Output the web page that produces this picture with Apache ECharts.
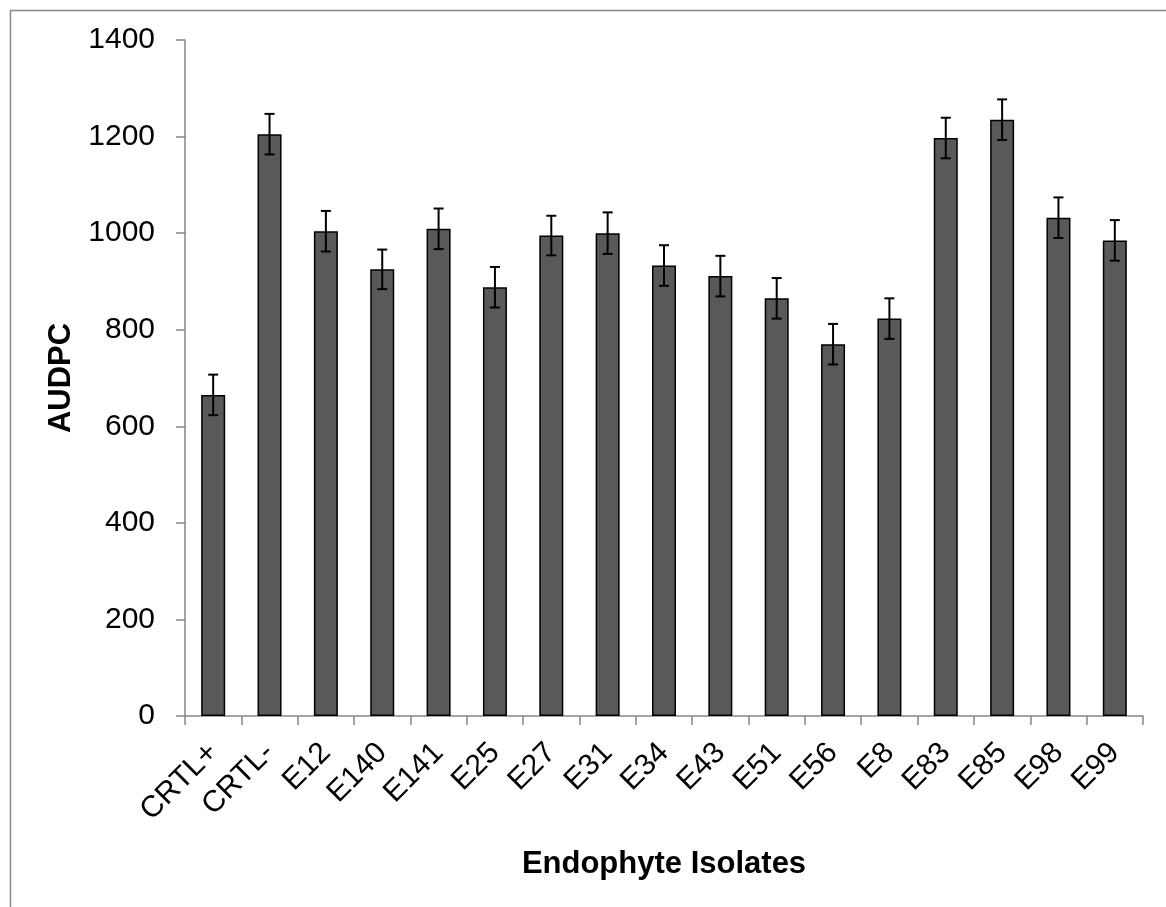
<!DOCTYPE html>
<html>
<head>
<meta charset="utf-8">
<script src="https://cdn.jsdelivr.net/npm/echarts@6/dist/echarts.min.js"></script>
<style>
html,body{margin:0;padding:0;background:#fff;}
#chart{width:1166px;height:907px;}
</style>
</head>
<body>
<div id="chart"></div>
<script>
const categories = ['CRTL+','CRTL-','E12','E140','E141','E25','E27','E31','E34','E43','E51','E56','E8','E83','E85','E98','E99'];
const audpc = [665, 1205, 1004, 925, 1009, 888, 995, 1000, 933, 911, 865, 770, 823, 1197, 1235, 1032, 985];
const errors = [42, 42, 42, 41, 42, 42, 41, 43, 42, 42, 42, 42, 42, 42, 42, 42, 42];
const yTicks = [0, 200, 400, 600, 800, 1000, 1200, 1400];

const FONT = '"Liberation Sans", Arial, sans-serif';
const chart = echarts.init(document.getElementById('chart'), null, {renderer: 'canvas'});

const errData = categories.map((c, i) => [i, audpc[i], errors[i]]);

chart.setOption({
  animation: false,
  backgroundColor: '#ffffff',
  graphic: [{
    type: 'rect',
    left: 8, top: 8,
    shape: {x: 0, y: 0, width: 1300, height: 1000},
    style: {fill: 'none', stroke: '#888888', lineWidth: 1.5},
    silent: true
  }],
  grid: {left: 185, right: 23, top: 40, bottom: 191, containLabel: false},
  xAxis: {
    type: 'category',
    data: categories,
    boundaryGap: true,
    axisLine: {show: true, lineStyle: {color: '#868686', width: 1.5}},
    axisTick: {show: true, length: 9, lineStyle: {color: '#868686', width: 1.5}},
    axisLabel: {
      rotate: 45, margin: 32, interval: 0,
      color: '#000', fontSize: 30, fontFamily: FONT
    },
    name: 'Endophyte Isolates',
    nameLocation: 'middle',
    nameGap: 133,
    nameTextStyle: {color: '#000', fontSize: 31, fontWeight: 'bold', fontFamily: FONT}
  },
  yAxis: {
    type: 'value',
    min: yTicks[0], max: yTicks[yTicks.length - 1], interval: 200,
    splitLine: {show: false},
    axisLine: {show: true, lineStyle: {color: '#868686', width: 1.5}},
    axisTick: {show: true, length: 9, lineStyle: {color: '#868686', width: 1.5}},
    axisLabel: {margin: 30, color: '#000', fontSize: 30, fontFamily: FONT,
      formatter: function (v) { return String(v); }},
    name: 'AUDPC',
    nameLocation: 'middle',
    nameGap: 105,
    nameRotate: 90,
    nameTextStyle: {color: '#000', fontSize: 31, fontWeight: 'bold', fontFamily: FONT}
  },
  series: [
    {
      type: 'bar',
      data: audpc,
      barWidth: 24,
      itemStyle: {color: '#595959', borderColor: '#000000', borderWidth: 1.5}
    },
    {
      type: 'custom',
      data: errData,
      z: 10,
      renderItem: function (params, api) {
        const idx = api.value(0);
        const v = api.value(1);
        const e = api.value(2);
        const top = api.coord([idx, v + e]);
        const bot = api.coord([idx, v - e]);
        const hw = 5;
        const st = {stroke: '#000', lineWidth: 2};
        return {
          type: 'group',
          children: [
            {type: 'line', shape: {x1: top[0], y1: top[1], x2: bot[0], y2: bot[1]}, style: st},
            {type: 'line', shape: {x1: top[0] - hw, y1: top[1], x2: top[0] + hw, y2: top[1]}, style: st},
            {type: 'line', shape: {x1: bot[0] - hw, y1: bot[1], x2: bot[0] + hw, y2: bot[1]}, style: st}
          ]
        };
      }
    }
  ]
});
</script>
</body>
</html>
